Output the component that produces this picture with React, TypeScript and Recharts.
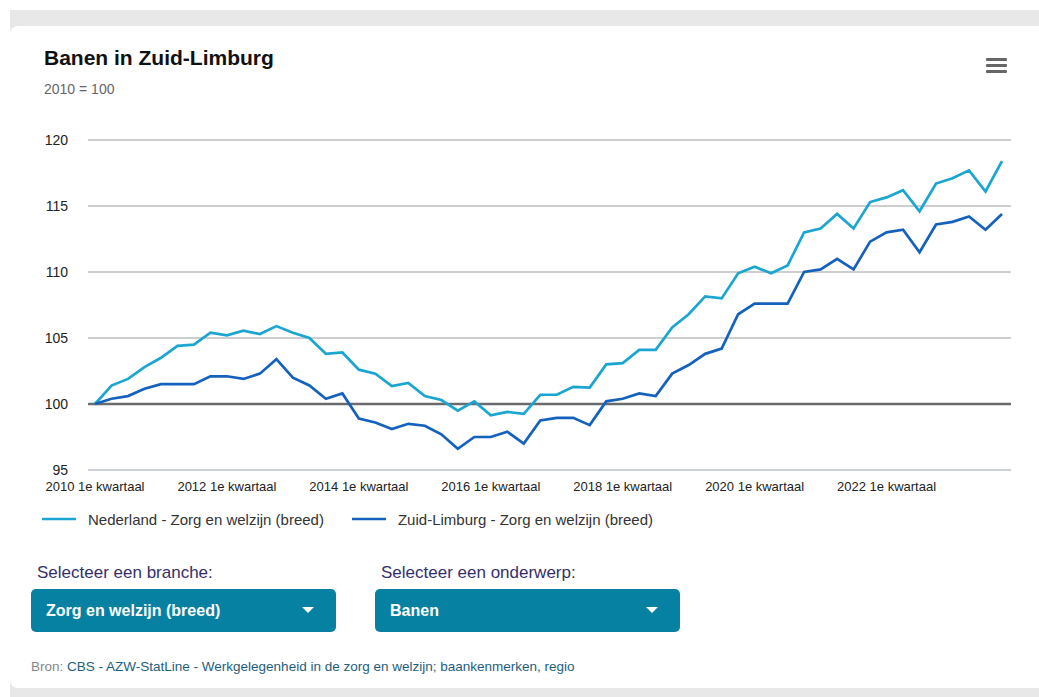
import { LineChart, Line, XAxis, YAxis, CartesianGrid, ReferenceLine, Legend } from 'recharts';

const years = [2010, 2011, 2012, 2013, 2014, 2015, 2016, 2017, 2018, 2019, 2020, 2021, 2022, 2023];
const quarters = ['1e kwartaal', '2e kwartaal', '3e kwartaal', '4e kwartaal'];
const periods = years.flatMap((y) => quarters.map((q) => `${y} ${q}`));

const nederland = [
  100, 101.4, 101.9, 102.8, 103.5, 104.4, 104.5, 105.4, 105.2, 105.55, 105.3, 105.9, 105.4, 105.0,
  103.8, 103.9, 102.6, 102.3, 101.35, 101.6, 100.6, 100.3, 99.5, 100.2, 99.15, 99.4, 99.25, 100.7,
  100.7, 101.3, 101.25, 103.0, 103.1, 104.1, 104.1, 105.8, 106.8, 108.15, 108.0, 109.9, 110.4, 109.9,
  110.5, 113.0, 113.3, 114.4, 113.3, 115.3, 115.65, 116.2, 114.6, 116.7, 117.1, 117.7, 116.1, 118.4,
];
const zuidLimburg = [
  100, 100.4, 100.6, 101.15, 101.5, 101.5, 101.5, 102.1, 102.1, 101.9, 102.3, 103.4, 102.0, 101.4,
  100.4, 100.8, 98.9, 98.6, 98.1, 98.5, 98.35, 97.7, 96.6, 97.5, 97.5, 97.9, 97.0, 98.75,
  98.95, 98.95, 98.4, 100.2, 100.4, 100.8, 100.6, 102.3, 102.95, 103.8, 104.2, 106.8, 107.6, 107.6,
  107.6, 110.0, 110.2, 111.0, 110.2, 112.3, 113.0, 113.2, 111.5, 113.6, 113.8, 114.2, 113.2, 114.4,
];
const yTicks = [95, 100, 105, 110, 115, 120];

const NL_NAME = 'Nederland - Zorg en welzijn (breed)';
const ZL_NAME = 'Zuid-Limburg - Zorg en welzijn (breed)';
const NL_COLOR = '#1aa6d1';
const ZL_COLOR = '#1462bd';

const FONT = '"Liberation Sans", Arial, sans-serif';

const data = periods.map((p, i) => ({ period: p, nl: nederland[i], zl: zuidLimburg[i] }));

function LegendContent({ payload }: any) {
  return (
    <div style={{ display: 'flex', height: 24, alignItems: 'center', fontFamily: FONT, fontSize: 15, color: '#333' }}>
      {(payload || []).map((p: any) => (
        <div key={p.value} style={{ display: 'flex', alignItems: 'center', marginRight: 28 }}>
          <svg width={34} height={4} style={{ marginRight: 12 }}>
            <line x1={0} x2={34} y1={2} y2={2} stroke={p.color} strokeWidth={2.5} />
          </svg>
          <span>{p.value}</span>
        </div>
      ))}
    </div>
  );
}

function Select({ label, value, left }: { label: string; value: string; left: number }) {
  return (
    <div style={{ position: 'absolute', left, top: 563 }}>
      <div style={{ fontFamily: FONT, fontSize: 17, color: '#35306a', marginLeft: 6, marginBottom: 6 }}>{label}</div>
      <div
        style={{
          width: 305,
          height: 43,
          background: '#0781a2',
          borderRadius: 5,
          color: '#fff',
          fontFamily: FONT,
          fontWeight: 'bold',
          fontSize: 16,
          display: 'flex',
          alignItems: 'center',
          paddingLeft: 15,
          boxSizing: 'border-box',
          position: 'relative',
        }}
      >
        {value}
        <div
          style={{
            position: 'absolute',
            right: 22,
            top: 18,
            width: 0,
            height: 0,
            borderLeft: '6px solid transparent',
            borderRight: '6px solid transparent',
            borderTop: '6px solid #fff',
          }}
        />
      </div>
    </div>
  );
}

export default function App() {
  return (
    <div style={{ position: 'absolute', left: 0, top: 0, width: 1039, height: 697, background: '#fff', overflow: 'hidden' }}>
      <div style={{ position: 'absolute', left: 10, top: 10, width: 1040, height: 700, background: '#e8e8e8' }} />
      <div style={{ position: 'absolute', left: 10, top: 26, width: 1040, height: 662, background: '#fff', borderRadius: 8 }} />

      <div style={{ position: 'absolute', left: 44, top: 46, fontFamily: FONT, fontWeight: 'bold', fontSize: 21, color: '#111' }}>
        Banen in Zuid-Limburg
      </div>
      <div style={{ position: 'absolute', left: 44, top: 81, fontFamily: FONT, fontSize: 14, color: '#666' }}>2010 = 100</div>

      <div style={{ position: 'absolute', left: 986, top: 58 }}>
        {[0, 1, 2].map((i) => (
          <div key={i} style={{ width: 21, height: 3, background: '#666', borderRadius: 1, marginBottom: 3 }} />
        ))}
      </div>

      <div style={{ position: 'absolute', left: 0, top: 120 }}>
        <LineChart width={1039} height={411} data={data} margin={{ top: 20, right: 28, bottom: 0, left: 0 }}>
          <CartesianGrid horizontal vertical={false} stroke="#9c9c9c" />
          <XAxis
            dataKey="period"
            interval={7}
            padding={{ left: 7, right: 9 }}
            height={37}
            tickLine={false}
            tickSize={0}
            tickMargin={12}
            axisLine={{ stroke: '#ccd6eb' }}
            tick={{ fill: '#222', fontSize: 13, fontFamily: FONT }}
          />
          <YAxis
            domain={[95, 120]}
            ticks={yTicks}
            width={88}
            axisLine={false}
            tickLine={false}
            tickSize={0}
            tickMargin={20}
            tick={{ fill: '#222', fontSize: 14, fontFamily: FONT }}
          />
          <ReferenceLine y={100} stroke="#6b6b6b" strokeWidth={2.5} />
          <Legend
            verticalAlign="bottom"
            align="left"
            content={<LegendContent />}
            wrapperStyle={{ left: 42, width: 900 }}
          />
          <Line name={NL_NAME} dataKey="nl" stroke={NL_COLOR} strokeWidth={2.7} dot={false} type="linear" isAnimationActive={false} />
          <Line name={ZL_NAME} dataKey="zl" stroke={ZL_COLOR} strokeWidth={2.7} dot={false} type="linear" isAnimationActive={false} />
        </LineChart>
      </div>

      <Select label="Selecteer een branche:" value="Zorg en welzijn (breed)" left={31} />
      <Select label="Selecteer een onderwerp:" value="Banen" left={375} />

      <div style={{ position: 'absolute', left: 31, top: 659, fontFamily: FONT, fontSize: 13.5, color: '#1e5e7e' }}>
        <span style={{ color: '#888' }}>Bron: </span>CBS - AZW-StatLine - Werkgelegenheid in de zorg en welzijn; baankenmerken, regio
      </div>
    </div>
  );
}
